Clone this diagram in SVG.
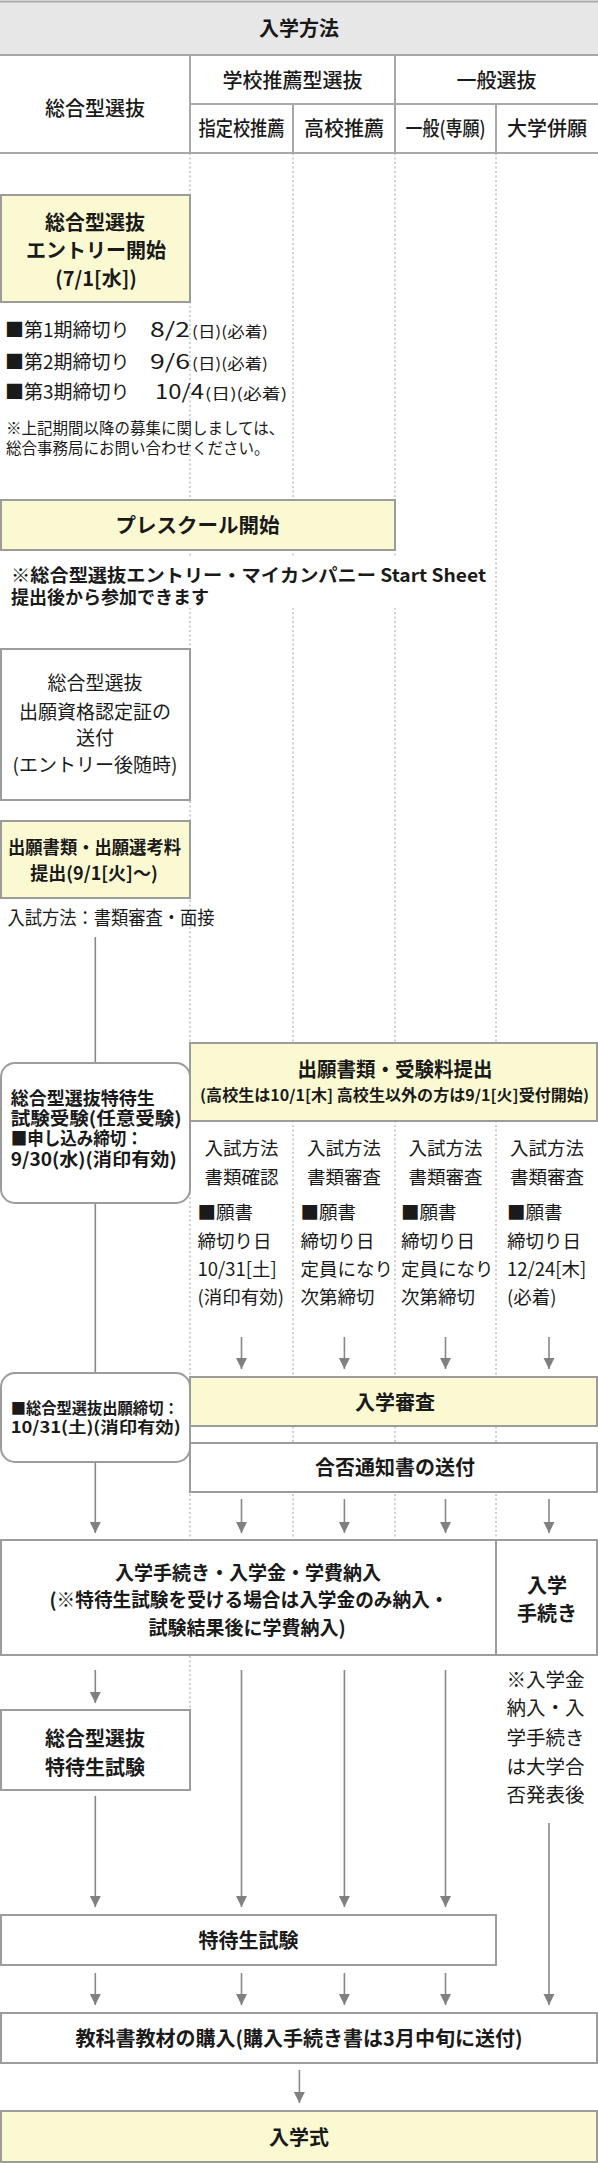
<svg xmlns="http://www.w3.org/2000/svg" width="598" height="2163" viewBox="0 0 598 2163">
<style>
text{font-family:"Noto Sans CJK JP","Noto Sans CJK SC","Noto Sans",sans-serif;fill:#1a1a1a;}
.b{font-weight:700;}
.m{font-weight:500;}
.c{text-anchor:middle;}
.box{stroke:#9c9c9c;stroke-width:2;}
.yl{fill:#fbf9d1;}
.wh{fill:#fff;}
.dot{stroke:#a0a0a0;stroke-width:1;stroke-dasharray:2 2.5;fill:none;}
.ln{stroke:#888;stroke-width:1.6;fill:none;}
.ar{marker-end:url(#ah);}
.hl{stroke:#a8a8a8;stroke-width:2;fill:none;}
</style>
<defs>
<marker id="ah" markerUnits="userSpaceOnUse" markerWidth="12" markerHeight="12" refX="11" refY="5.5" orient="auto">
<path d="M0,0 L11,5.5 L0,11 z" fill="#808080"/>
</marker>
</defs>
<rect x="0" y="0" width="598" height="2163" fill="#fff"/>

<g id="header">
<rect x="0" y="1" width="598" height="54" fill="#e7e7e7"/>
<path class="hl" d="M0,1.5H598M0,55H598M0,153H598M190,104H598M190,55V153M395,55V153M293,104V153M496,104V153"/>
<text class="b c" x="299" y="35.5" font-size="20">入学方法</text>
<text class="m c" x="95" y="115.5" font-size="20">総合型選抜</text>
<text class="m c" x="292.5" y="87.5" font-size="20">学校推薦型選抜</text>
<text class="m c" x="496.5" y="87.5" font-size="20">一般選抜</text>
<text class="m c" x="241.5" y="136" font-size="20" textLength="86" lengthAdjust="spacingAndGlyphs">指定校推薦</text>
<text class="m c" x="344" y="136" font-size="20">高校推薦</text>
<text class="m c" x="445.5" y="136" font-size="20" textLength="80" lengthAdjust="spacingAndGlyphs">一般(専願)</text>
<text class="m c" x="547" y="136" font-size="20">大学併願</text>
</g>

<g id="guides">
<path class="dot" d="M190,153V1710M293,153V1540M395,153V1540M496,153V1540"/>
</g>

<g id="connectors">
<path class="ln" d="M95.3,937V1063M95.3,1203V1373"/>
<line class="ln ar" x1="95.3" y1="1462" x2="95.3" y2="1533"/>
<line class="ln ar" x1="241.5" y1="1337" x2="241.5" y2="1369"/>
<line class="ln ar" x1="344.4" y1="1337" x2="344.4" y2="1369"/>
<line class="ln ar" x1="445.5" y1="1337" x2="445.5" y2="1369"/>
<line class="ln ar" x1="549" y1="1337" x2="549" y2="1369"/>
<line class="ln ar" x1="241.5" y1="1499" x2="241.5" y2="1533"/>
<line class="ln ar" x1="344.4" y1="1499" x2="344.4" y2="1533"/>
<line class="ln ar" x1="445.5" y1="1499" x2="445.5" y2="1533"/>
<line class="ln ar" x1="549" y1="1499" x2="549" y2="1533"/>
<line class="ln ar" x1="95.3" y1="1670" x2="95.3" y2="1703"/>
<line class="ln ar" x1="95.3" y1="1796" x2="95.3" y2="1907"/>
<line class="ln ar" x1="241.5" y1="1670" x2="241.5" y2="1907"/>
<line class="ln ar" x1="344.4" y1="1670" x2="344.4" y2="1907"/>
<line class="ln ar" x1="445.5" y1="1670" x2="445.5" y2="1907"/>
<line class="ln ar" x1="549" y1="1823" x2="549" y2="2005"/>
<line class="ln ar" x1="95.3" y1="1973" x2="95.3" y2="2005"/>
<line class="ln ar" x1="241.5" y1="1973" x2="241.5" y2="2005"/>
<line class="ln ar" x1="344.4" y1="1973" x2="344.4" y2="2005"/>
<line class="ln ar" x1="445.5" y1="1973" x2="445.5" y2="2005"/>
<line class="ln ar" x1="299.4" y1="2070" x2="299.4" y2="2103"/>
</g>

<g id="entry-start">
<rect class="box yl" x="1" y="195" width="189" height="107"/>
<text class="b c" font-size="20"><tspan x="95" y="229.6">総合型選抜</tspan><tspan x="96" y="257.6">エントリー開始</tspan><tspan x="96" y="285.6">(7/1[水])</tspan></text>
</g>

<g id="deadlines">
<text x="5" y="337" font-size="19">■第1期締切り<tspan x="150" font-size="20" textLength="40" lengthAdjust="spacingAndGlyphs">8/2</tspan><tspan x="192" font-size="15" textLength="76" lengthAdjust="spacingAndGlyphs">(日)(必着)</tspan></text>
<text x="5" y="369" font-size="19">■第2期締切り<tspan x="150" font-size="20" textLength="40" lengthAdjust="spacingAndGlyphs">9/6</tspan><tspan x="192" font-size="15" textLength="76" lengthAdjust="spacingAndGlyphs">(日)(必着)</tspan></text>
<text x="5" y="399" font-size="19">■第3期締切り<tspan x="155" font-size="20" textLength="49" lengthAdjust="spacingAndGlyphs">10/4</tspan><tspan x="205" font-size="15" textLength="82" lengthAdjust="spacingAndGlyphs">(日)(必着)</tspan></text>
<text font-size="15.5"><tspan x="6" y="434">※上記期間以降の募集に関しましては、</tspan><tspan x="6" y="454">総合事務局にお問い合わせください。</tspan></text>
</g>

<g id="preschool">
<rect class="box yl" x="1" y="500" width="394" height="50"/>
<text class="b c" x="197.5" y="532.6" font-size="20.5">プレスクール開始</text>
</g>

<g id="preschool-note">
<rect x="0" y="556" width="490" height="52" fill="#fff"/>
<text class="b" font-size="18"><tspan x="11" y="582" textLength="475" lengthAdjust="spacingAndGlyphs">※総合型選抜エントリー・マイカンパニー Start Sheet</tspan><tspan x="11" y="604">提出後から参加できます</tspan></text>
</g>

<g id="certificate">
<rect class="box wh" x="1" y="649" width="189" height="151"/>
<text class="c" font-size="19"><tspan x="95" y="690">総合型選抜</tspan><tspan x="95" y="719">出願資格認定証の</tspan><tspan x="95" y="745">送付</tspan><tspan x="95" y="772">(エントリー後随時)</tspan></text>
</g>

<g id="application-ao">
<rect class="box yl" x="1" y="821" width="189" height="77"/>
<text class="b c" font-size="18"><tspan x="94.5" y="854" textLength="173" lengthAdjust="spacingAndGlyphs">出願書類・出願選考料</tspan><tspan x="94" y="880">提出(9/1[火]〜)</tspan></text>
</g>

<g id="method-ao">
<text x="7.6" y="925" font-size="19" textLength="207" lengthAdjust="spacingAndGlyphs">入試方法：書類審査・面接</text>
</g>

<g id="scholar-apply">
<rect class="box wh" x="1" y="1063" width="189" height="140" rx="14"/>
<text class="b" font-size="18"><tspan x="10.7" y="1105">総合型選抜特待生</tspan><tspan x="10.7" y="1125" textLength="171" lengthAdjust="spacingAndGlyphs">試験受験(任意受験)</tspan><tspan x="10.7" y="1145" textLength="132" lengthAdjust="spacingAndGlyphs">■申し込み締切：</tspan><tspan x="10.7" y="1166" textLength="166" lengthAdjust="spacingAndGlyphs">9/30(水)(消印有効)</tspan></text>
</g>

<g id="application">
<rect class="box yl" x="190" y="1043" width="407" height="78"/>
<text class="b c"><tspan x="395" y="1077" font-size="20.5" textLength="195" lengthAdjust="spacingAndGlyphs">出願書類・受験料提出</tspan><tspan x="394.5" y="1101" font-size="15.5" textLength="389" lengthAdjust="spacingAndGlyphs">(高校生は10/1[木] 高校生以外の方は9/1[火]受付開始)</tspan></text>
</g>

<g id="col-designated">
<text font-size="18.5"><tspan class="c" x="241.5" y="1155">入試方法</tspan><tspan class="c" x="241.5" y="1184">書類確認</tspan><tspan x="197.5" y="1219">■願書</tspan><tspan x="197.5" y="1248">締切り日</tspan><tspan x="197.5" y="1276">10/31[土]</tspan><tspan x="197.5" y="1304">(消印有効)</tspan></text>
</g>
<g id="col-school">
<text font-size="18.5"><tspan class="c" x="344" y="1155">入試方法</tspan><tspan class="c" x="344" y="1184">書類審査</tspan><tspan x="300.5" y="1219">■願書</tspan><tspan x="300.5" y="1248">締切り日</tspan><tspan x="300.5" y="1276">定員になり</tspan><tspan x="300.5" y="1304">次第締切</tspan></text>
</g>
<g id="col-general">
<text font-size="18.5"><tspan class="c" x="445.5" y="1155">入試方法</tspan><tspan class="c" x="445.5" y="1184">書類審査</tspan><tspan x="401" y="1219">■願書</tspan><tspan x="401" y="1248">締切り日</tspan><tspan x="401" y="1276">定員になり</tspan><tspan x="401" y="1304">次第締切</tspan></text>
</g>
<g id="col-combined">
<text font-size="18.5"><tspan class="c" x="547" y="1155">入試方法</tspan><tspan class="c" x="547" y="1184">書類審査</tspan><tspan x="507" y="1219">■願書</tspan><tspan x="507" y="1248">締切り日</tspan><tspan x="507" y="1276">12/24[木]</tspan><tspan x="507" y="1304">(必着)</tspan></text>
</g>

<g id="ao-deadline">
<rect class="box wh" x="1" y="1373" width="189" height="89" rx="14"/>
<text class="b" font-size="16"><tspan x="10.7" y="1414" textLength="168" lengthAdjust="spacingAndGlyphs">■総合型選抜出願締切：</tspan><tspan x="10.7" y="1433" textLength="170" lengthAdjust="spacingAndGlyphs">10/31(土)(消印有効)</tspan></text>
</g>

<g id="screening">
<rect class="box yl" x="190" y="1377" width="407" height="49"/>
<text class="b c" x="395" y="1409.6" font-size="20">入学審査</text>
</g>

<g id="notice">
<rect class="box wh" x="190" y="1443" width="407" height="49"/>
<text class="b c" x="395" y="1474.6" font-size="20">合否通知書の送付</text>
</g>

<g id="enroll-pay">
<rect class="box wh" x="1" y="1540" width="495" height="115"/>
<text class="b c" font-size="19"><tspan x="248" y="1580">入学手続き・入学金・学費納入</tspan><tspan x="249" y="1607" textLength="399" lengthAdjust="spacingAndGlyphs">(※特待生試験を受ける場合は入学金のみ納入・</tspan><tspan x="247" y="1635">試験結果後に学費納入)</tspan></text>
</g>

<g id="enroll-proc">
<rect class="box wh" x="496" y="1540" width="101" height="115"/>
<text class="b c" font-size="20"><tspan x="547" y="1592.6">入学</tspan><tspan x="547" y="1620.6">手続き</tspan></text>
</g>

<g id="scholar-exam-ao">
<rect class="box wh" x="1" y="1710" width="189" height="80"/>
<text class="b c" font-size="20"><tspan x="95" y="1745.6">総合型選抜</tspan><tspan x="95" y="1774.6">特待生試験</tspan></text>
</g>

<g id="combined-note">
<text font-size="19.5"><tspan x="506.5" y="1687.4">※入学金</tspan><tspan x="506.5" y="1715.4">納入・入</tspan><tspan x="506.5" y="1745.4">学手続き</tspan><tspan x="506.5" y="1774.4">は大学合</tspan><tspan x="506.5" y="1802.4">否発表後</tspan></text>
</g>

<g id="scholar-exam">
<rect class="box wh" x="1" y="1915" width="495" height="50"/>
<text class="b c" x="248.5" y="1947.6" font-size="20">特待生試験</text>
</g>

<g id="textbooks">
<rect class="box wh" x="1" y="2013" width="596" height="50"/>
<text class="b c" x="299" y="2045.6" font-size="20">教科書教材の購入(購入手続き書は3月中旬に送付)</text>
</g>

<g id="ceremony">
<rect class="box yl" x="1" y="2111" width="596" height="51"/>
<text class="b c" x="299" y="2144.6" font-size="20">入学式</text>
</g>
</svg>
